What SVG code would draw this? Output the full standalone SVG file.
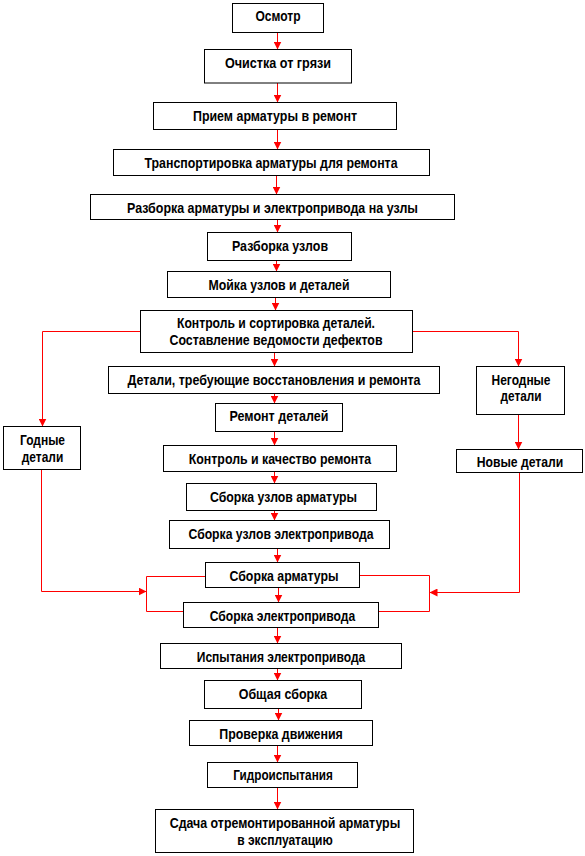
<svg xmlns="http://www.w3.org/2000/svg" width="585" height="856" viewBox="0 0 585 856">
<style>
.b rect{fill:#fff;stroke:#000;stroke-width:1}
.b text{font-family:"Liberation Sans",Arial,sans-serif;font-weight:bold;font-size:15px;fill:#000;text-anchor:middle}
#connectors path{fill:none;stroke:#f00;stroke-width:1}
</style>
<defs>
<marker id="ah" markerWidth="8" markerHeight="8" refX="8" refY="4" orient="auto" markerUnits="userSpaceOnUse"><path d="M0,0 L8,4 L0,8 z" fill="#f00"/></marker>
</defs>
<rect width="585" height="856" fill="#fff"/>
<g id="connectors">
<path d="M277.5,32.5 V49.5" marker-end="url(#ah)"/>
<path d="M277.5,83 V102.5" marker-end="url(#ah)"/>
<path d="M277.5,129.5 V149.5" marker-end="url(#ah)"/>
<path d="M276.5,175.5 V194.5" marker-end="url(#ah)"/>
<path d="M277.5,219.5 V232.5" marker-end="url(#ah)"/>
<path d="M276.5,260.5 V271.5" marker-end="url(#ah)"/>
<path d="M275.5,297.5 V310.5" marker-end="url(#ah)"/>
<path d="M274.5,352.5 V366.5" marker-end="url(#ah)"/>
<path d="M274.5,393.5 V403.5" marker-end="url(#ah)"/>
<path d="M274.5,431.5 V445.5" marker-end="url(#ah)"/>
<path d="M274.5,471.5 V483.5" marker-end="url(#ah)"/>
<path d="M274.5,510.5 V520.5" marker-end="url(#ah)"/>
<path d="M277.5,548.5 V562.5" marker-end="url(#ah)"/>
<path d="M278.5,587.5 V602.5" marker-end="url(#ah)"/>
<path d="M277.5,627.5 V643.5" marker-end="url(#ah)"/>
<path d="M277.5,668.5 V680.5" marker-end="url(#ah)"/>
<path d="M278.5,708.5 V720.5" marker-end="url(#ah)"/>
<path d="M277.5,745.5 V762.5" marker-end="url(#ah)"/>
<path d="M277.5,787.5 V809.5" marker-end="url(#ah)"/>
<path d="M140.5,331.5 H42.5 V426.5" marker-end="url(#ah)"/>
<path d="M412.5,331.5 H518.5 V366.5" marker-end="url(#ah)"/>
<path d="M518.5,414.5 V449.5" marker-end="url(#ah)"/>
<path d="M41.5,469.5 V591.5 H146.5" marker-end="url(#ah)"/>
<path d="M519.5,472.5 V592.5 H429.5" marker-end="url(#ah)"/>
<path d="M205.5,576.5 H146.5 V611.5 H183.5"/>
<path d="M359.5,575.5 H429.5 V611.5 H378.5"/>
</g>
<g id="n1" class="b"><rect x="232.5" y="3.5" width="91" height="29"/><text x="278" y="21" textLength="45" lengthAdjust="spacingAndGlyphs">Осмотр</text></g>
<g id="n2" class="b"><rect x="204.5" y="49.5" width="147" height="33.5"/><text x="278" y="68" textLength="106" lengthAdjust="spacingAndGlyphs">Очистка  от грязи</text></g>
<g id="n3" class="b"><rect x="153.5" y="102.5" width="243" height="27"/><text x="275" y="121" textLength="164" lengthAdjust="spacingAndGlyphs">Прием  арматуры  в ремонт</text></g>
<g id="n4" class="b"><rect x="113.5" y="149.5" width="316" height="26"/><text x="271" y="168" textLength="253" lengthAdjust="spacingAndGlyphs">Транспортировка  арматуры для ремонта</text></g>
<g id="n5" class="b"><rect x="90.5" y="194.5" width="364" height="25"/><text x="272.5" y="212.5" textLength="291" lengthAdjust="spacingAndGlyphs">Разборка  арматуры  и электропривода  на узлы</text></g>
<g id="n6" class="b"><rect x="207.5" y="232.5" width="144" height="28"/><text x="280" y="250.5" textLength="96" lengthAdjust="spacingAndGlyphs">Разборка  узлов</text></g>
<g id="n7" class="b"><rect x="167.5" y="271.5" width="223" height="26"/><text x="279" y="289.5" textLength="141" lengthAdjust="spacingAndGlyphs">Мойка  узлов  и деталей</text></g>
<g id="n8" class="b"><rect x="140.5" y="310.5" width="272" height="42"/><text x="276" y="328" textLength="198" lengthAdjust="spacingAndGlyphs">Контроль  и сортировка  деталей.</text><text x="276" y="345" textLength="213" lengthAdjust="spacingAndGlyphs">Составление  ведомости  дефектов</text></g>
<g id="n9" class="b"><rect x="108.5" y="366.5" width="331" height="27"/><text x="274" y="384.5" textLength="293" lengthAdjust="spacingAndGlyphs">Детали,  требующие  восстановления   и ремонта</text></g>
<g id="n10" class="b"><rect x="476.5" y="366.5" width="88" height="48"/><text x="521" y="384.5" textLength="59" lengthAdjust="spacingAndGlyphs">Негодные</text><text x="521" y="401" textLength="41" lengthAdjust="spacingAndGlyphs">детали</text></g>
<g id="n11" class="b"><rect x="215.5" y="403.5" width="127" height="28"/><text x="279" y="421" textLength="99" lengthAdjust="spacingAndGlyphs">Ремонт деталей</text></g>
<g id="n12" class="b"><rect x="3.5" y="426.5" width="77" height="43"/><text x="42.5" y="444.5" textLength="45" lengthAdjust="spacingAndGlyphs">Годные</text><text x="42.5" y="461.5" textLength="41.5" lengthAdjust="spacingAndGlyphs">детали</text></g>
<g id="n13" class="b"><rect x="163.5" y="445.5" width="233" height="26"/><text x="280" y="463.5" textLength="182.5" lengthAdjust="spacingAndGlyphs">Контроль  и качество  ремонта</text></g>
<g id="n14" class="b"><rect x="456.5" y="449.5" width="126" height="23"/><text x="520" y="466.7" textLength="86.5" lengthAdjust="spacingAndGlyphs">Новые  детали</text></g>
<g id="n15" class="b"><rect x="186.5" y="483.5" width="190" height="27"/><text x="283.5" y="501.7" textLength="147" lengthAdjust="spacingAndGlyphs">Сборка  узлов арматуры</text></g>
<g id="n16" class="b"><rect x="169.5" y="520.5" width="220" height="28"/><text x="281" y="538.5" textLength="185" lengthAdjust="spacingAndGlyphs">Сборка  узлов  электропривода</text></g>
<g id="n17" class="b"><rect x="205.5" y="562.5" width="154" height="25"/><text x="284" y="580.7" textLength="109" lengthAdjust="spacingAndGlyphs">Сборка  арматуры</text></g>
<g id="n18" class="b"><rect x="183.5" y="602.5" width="195" height="25"/><text x="282.5" y="620.7" textLength="145.5" lengthAdjust="spacingAndGlyphs">Сборка  электропривода</text></g>
<g id="n19" class="b"><rect x="160.5" y="643.5" width="241" height="25"/><text x="281" y="661.7" textLength="168.5" lengthAdjust="spacingAndGlyphs">Испытания  электропривода</text></g>
<g id="n20" class="b"><rect x="204.5" y="680.5" width="157" height="28"/><text x="283" y="698.5" textLength="88.5" lengthAdjust="spacingAndGlyphs">Общая сборка</text></g>
<g id="n21" class="b"><rect x="189.5" y="720.5" width="183" height="25"/><text x="281" y="738.5" textLength="123.5" lengthAdjust="spacingAndGlyphs">Проверка  движения</text></g>
<g id="n22" class="b"><rect x="207.5" y="762.5" width="150" height="25"/><text x="283" y="780" textLength="99.5" lengthAdjust="spacingAndGlyphs">Гидроиспытания</text></g>
<g id="n23" class="b"><rect x="155.5" y="809.5" width="258" height="43"/><text x="285" y="827.5" textLength="230.5" lengthAdjust="spacingAndGlyphs">Сдача отремонтированной  арматуры</text><text x="285" y="844.5" textLength="95.5" lengthAdjust="spacingAndGlyphs">в эксплуатацию</text></g>
</svg>
